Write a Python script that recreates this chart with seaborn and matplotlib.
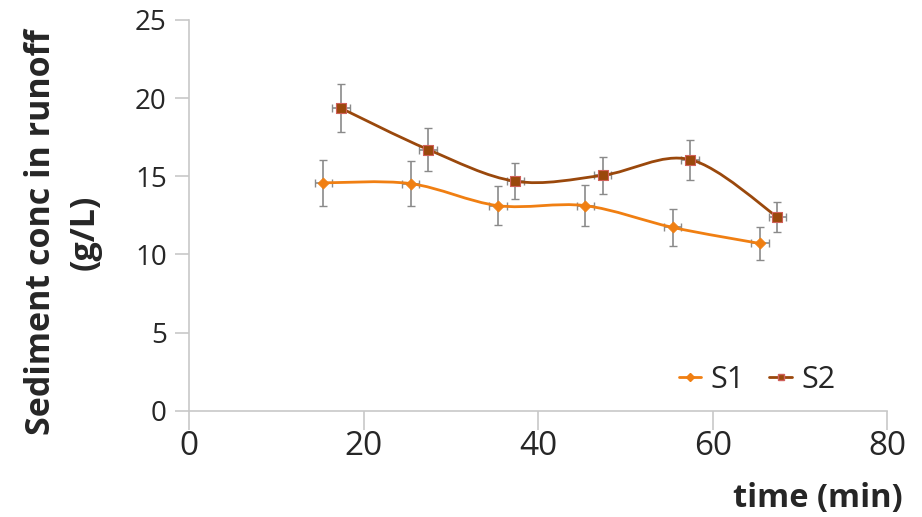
import numpy as np
import pandas as pd
import matplotlib
matplotlib.use('Agg')
import matplotlib.pyplot as plt
from matplotlib.path import Path
from matplotlib.patches import PathPatch
from matplotlib.lines import Line2D
import seaborn as sns

# values
s1_time = [15.4, 25.4, 35.4, 45.4, 55.4, 65.4]
s1_conc = [14.58, 14.53, 13.12, 13.12, 11.73, 10.7]
s1_yerr = [1.45, 1.45, 1.25, 1.3, 1.17, 1.06]

s2_time = [17.4, 27.4, 37.4, 47.4, 57.4, 67.4]
s2_conc = [19.36, 16.71, 14.68, 15.06, 16.07, 12.4]
s2_yerr = [1.52, 1.35, 1.15, 1.2, 1.28, 0.96]

xerr = 1.0

x_ticks = [0, 20, 40, 60, 80]
y_ticks = [0, 5, 10, 15, 20, 25]

c_s1 = '#F07F12'
c_s2 = '#9A480C'
c_s2_edge = '#D0605A'
c_axis = '#C8C8C8'
c_err = '#8A8A8A'

df = pd.DataFrame({
    'time': s1_time + s2_time,
    'conc': s1_conc + s2_conc,
    'series': ['S1'] * len(s1_time) + ['S2'] * len(s2_time),
})

sns.set_style('white')
plt.rcParams['font.family'] = ['Open Sans', 'DejaVu Sans']


def smooth_path(xs, ys):
    # excel style smoothed line: cubic bezier through points
    pts = np.column_stack([xs, ys])
    n = len(pts)
    verts = [pts[0]]
    codes = [Path.MOVETO]
    for i in range(n - 1):
        p0 = pts[i - 1] if i > 0 else pts[i]
        p1 = pts[i]
        p2 = pts[i + 1]
        p3 = pts[i + 2] if i + 2 < n else pts[i + 1]
        c1 = p1 + (p2 - p0) / 6.0
        c2 = p2 - (p3 - p1) / 6.0
        verts += [c1, c2, p2]
        codes += [Path.CURVE4] * 3
    return Path(verts, codes)


fig = plt.figure(figsize=(9.22, 5.17), dpi=100)
ax = fig.add_axes([189 / 922, 1 - 410.7 / 517, (887.3 - 189) / 922, (410.7 - 20) / 517])

ax.errorbar(s1_time, s1_conc, yerr=s1_yerr, xerr=xerr, fmt='none', ecolor=c_err,
            elinewidth=1.2, capsize=3, capthick=1.0, zorder=2)
ax.errorbar(s2_time, s2_conc, yerr=s2_yerr, xerr=xerr, fmt='none', ecolor=c_err,
            elinewidth=1.2, capsize=3, capthick=1.0, zorder=2)

ax.add_patch(PathPatch(smooth_path(s1_time, s1_conc), fill=False, edgecolor=c_s1, lw=2.0, zorder=3))
ax.add_patch(PathPatch(smooth_path(s2_time, s2_conc), fill=False, edgecolor=c_s2, lw=2.0, zorder=3))

sns.scatterplot(data=df[df.series == 'S1'], x='time', y='conc', marker='D', s=32,
                color=c_s1, edgecolor=c_s1, linewidth=0.5, ax=ax, zorder=4, legend=False)
sns.scatterplot(data=df[df.series == 'S2'], x='time', y='conc', marker='s', s=55,
                color=c_s2, edgecolor=c_s2_edge, linewidth=0.8, ax=ax, zorder=4, legend=False)

ax.set_xlim(0, 80)
ax.set_ylim(0, 25)
ax.set_xticks(x_ticks)
ax.set_yticks(y_ticks)
ax.set_xlabel('')
ax.set_ylabel('')

for side in ['top', 'right']:
    ax.spines[side].set_visible(False)
for side in ['left', 'bottom']:
    ax.spines[side].set_color(c_axis)
    ax.spines[side].set_linewidth(1.2)

ax.tick_params(axis='both', which='major', direction='out', width=1.2,
               color=c_axis, left=True, bottom=True)
ax.tick_params(axis='y', labelsize=20, length=10, pad=6)
ax.tick_params(axis='x', labelsize=24, length=14, pad=0)

fig.text(63 / 922, 1 - 232 / 517, 'Sediment conc in runoff\n(g/L)', rotation=90,
         ha='center', va='center', multialignment='center', fontsize=24.5,
         fontweight='bold', linespacing=1.35)
fig.text(903 / 922, 1 - 498 / 517, 'time (min)', ha='right', va='center',
         fontsize=23.5, fontweight='bold')

handles = [
    Line2D([], [], color=c_s1, lw=2, marker='D', markersize=4, markeredgecolor=c_s1),
    Line2D([], [], color=c_s2, lw=2, marker='s', markersize=5, markerfacecolor=c_s2,
           markeredgecolor=c_s2_edge),
]
ax.legend(handles, ['S1', 'S2'], ncol=2, frameon=False, fontsize=22,
          loc='center', bbox_to_anchor=((757 - 189) / (887.3 - 189), (410.7 - 380) / (410.7 - 20)),
          handlelength=0.75, handletextpad=0.3, columnspacing=0.8)

fig.savefig('out.png', dpi=100)
